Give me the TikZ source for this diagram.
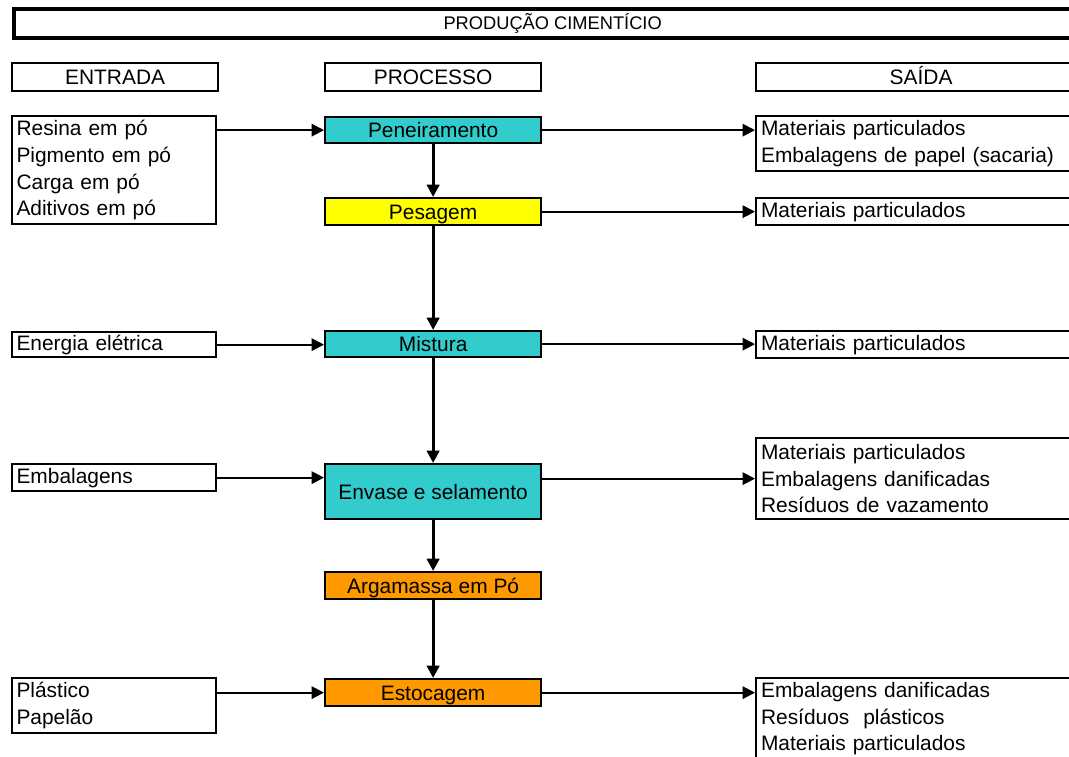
\documentclass[tikz,border=0pt]{standalone}
\usepackage{fontspec}
\setmainfont{Liberation Sans}
\usetikzlibrary{arrows.meta}
\definecolor{ciano}{HTML}{33CCCC}
\definecolor{amarelo}{HTML}{FFFF00}
\definecolor{laranja}{HTML}{FF9900}
\tikzset{
 caixa/.style={draw,line width=1.3pt,anchor=north west,inner sep=0pt,
  font=\fontsize{11.9}{15.2}\selectfont},
 cabbox/.style={caixa,minimum height=0.56cm,text height=10.5pt,text depth=2pt},
 entbox/.style={caixa,align=left,inner xsep=2.5pt,text width=3.9cm},
 saibox/.style={caixa,align=left,inner xsep=2.8pt,text width=6.3cm},
 procbox/.style={caixa,fill=#1,minimum width=4.32cm,text height=10.5pt,text depth=2pt},
 seta/.style={line width=1.1pt,-{Triangle[length=7pt,width=7pt]}},
 setav/.style={line width=1.7pt,-{Triangle[length=7pt,width=7pt]}}
}
\begin{document}
\begin{tikzpicture}[x=0.02cm,y=-0.02cm]
 \clip (0,0) rectangle (1069,757);
 \fill[white] (0,0) rectangle (1069,757);
 % cabecalho
 \node[cabbox,line width=2pt,minimum width=21.56cm,minimum height=0.58cm,
  font=\fontsize{10.4}{14}\selectfont,text height=9pt,text depth=1.5pt] (titulo) at (12,7) {PRODUÇÃO CIMENTÍCIO};
 \node[cabbox,minimum width=4.12cm] (hent) at (11,62) {ENTRADA};
 \node[cabbox,minimum width=4.32cm] (hproc) at (324,62) {PROCESSO};
 \node[cabbox,minimum width=6.6cm] (hsai) at (755,62) {SAÍDA};
 % processo
 \node[procbox=ciano,minimum height=0.52cm] (pen) at (324,116) {Peneiramento};
 \node[procbox=amarelo,minimum height=0.54cm] (pes) at (324,197) {Pesagem};
 \node[procbox=ciano,minimum height=0.52cm] (mis) at (324,330) {Mistura};
 \node[procbox=ciano,minimum height=1.1cm] (env) at (324,463) {Envase e selamento};
 \node[procbox=laranja,minimum height=0.54cm] (arg) at (324,571) {Argamassa em Pó};
 \node[procbox=laranja,minimum height=0.54cm] (est) at (324,678) {Estocagem};
 % entradas
 \node[entbox,minimum height=2.16cm] (ent1) at (11,115) {Resina em pó\\Pigmento em pó\\Carga em pó\\Aditivos em pó};
 \node[entbox,minimum height=0.5cm] (ent2) at (11,331) {Energia elétrica};
 \node[entbox,minimum height=0.54cm] (ent3) at (11,463) {Embalagens};
 \node[entbox,minimum height=1.1cm] (ent4) at (11,677) {Plástico\\Papelão};
 % saidas
 \node[saibox,minimum height=1.1cm] (sai1) at (755,115) {Materiais particulados\\Embalagens de papel (sacaria)};
 \node[saibox,minimum height=0.54cm] (sai2) at (755,197) {Materiais particulados};
 \node[saibox,minimum height=0.54cm] (sai3) at (755,330) {Materiais particulados};
 \node[saibox,minimum height=1.62cm] (sai4) at (755,437) {Materiais particulados\\Embalagens danificadas\\Resíduos de vazamento};
 \node[saibox,minimum height=1.62cm] (sai5) at (755,677) {Embalagens danificadas\\Resíduos~ plásticos\\Materiais particulados};
 % setas
 \draw[seta] (ent1.east |- pen.west) -- (pen.west);
 \draw[seta] (pen.east) -- (sai1.west |- pen.east);
 \draw[seta] (pes.east) -- (sai2.west |- pes.east);
 \draw[seta] (ent2.east) -- (mis.west |- ent2.east);
 \draw[seta] (mis.east) -- (sai3.west |- mis.east);
 \draw[seta] (ent3.east) -- (env.west |- ent3.east);
 \draw[seta] (env.east |- sai4.west) -- (sai4.west);
 \draw[seta] (ent4.east |- est.west) -- (est.west);
 \draw[seta] (est.east) -- (sai5.west |- est.east);
 \draw[setav] (pen) -- (pes);
 \draw[setav] (pes) -- (mis);
 \draw[setav] (mis) -- (env);
 \draw[setav] (env) -- (arg);
 \draw[setav] (arg) -- (est);
\end{tikzpicture}
\end{document}
